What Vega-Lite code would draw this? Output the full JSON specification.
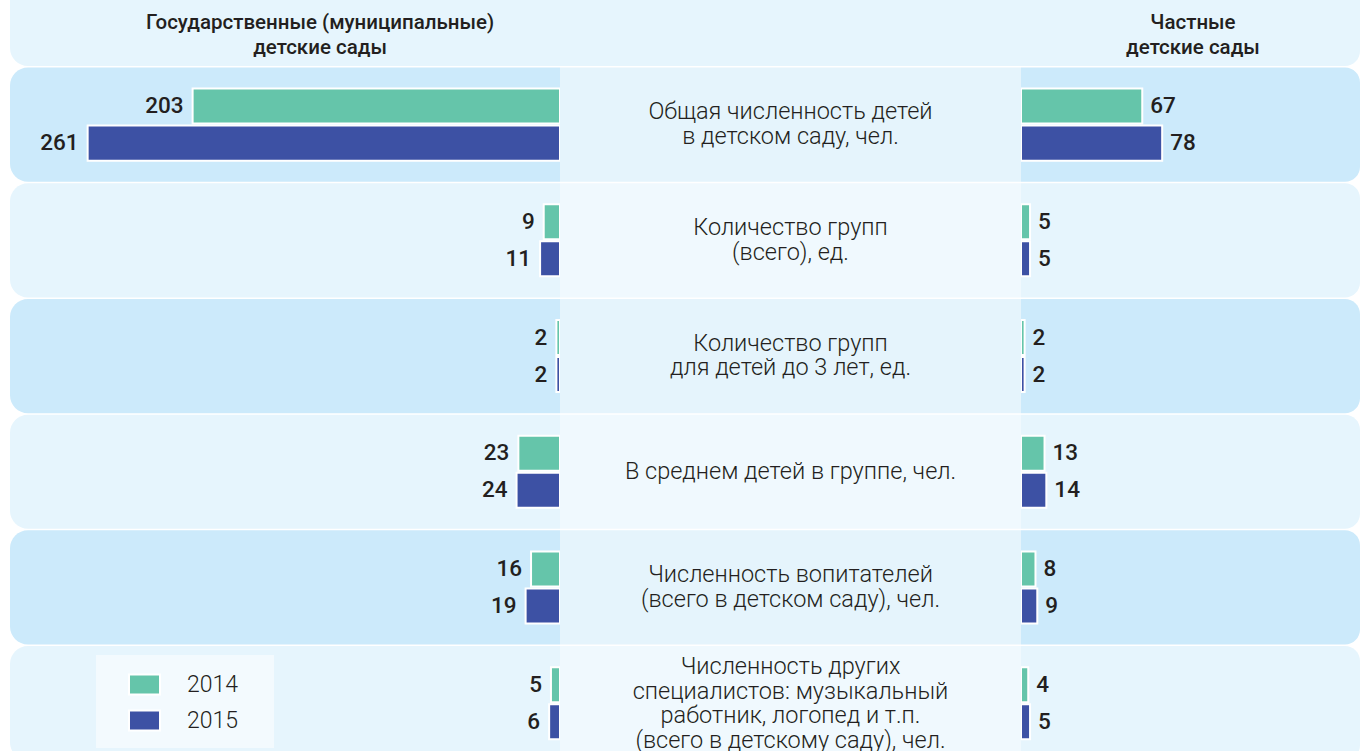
{
  "$schema": "https://vega.github.io/schema/vega-lite/v6.json",
  "padding": {"left": 10, "top": 0, "right": 0, "bottom": 0},
  "spacing": 0,
  "background": "white",
  "config": {
    "view": {"stroke": null},
    "legend": {
      "orient": "none",
      "legendX": 86,
      "legendY": 655,
      "padding": 13,
      "fillColor": "#f3fafe",
      "symbolType": "M-1,-0.645H1V0.645H-1Z",
      "symbolSize": 961,
      "symbolOffset": 19,
      "symbolStrokeColor": "white",
      "symbolStrokeWidth": 2,
      "symbolOpacity": 1,
      "labelOffset": 26,
      "rowPadding": 5,
      "labelFont": "Roboto",
      "labelFontWeight": 300,
      "labelFontSize": 23,
      "labelColor": "#231f20",
      "title": null
    }
  },
  "datasets": {
    "rows": [
      {"row": "h", "shade": "header"},
      {"row": "r1", "shade": "dark"},
      {"row": "r2", "shade": "light"},
      {"row": "r3", "shade": "dark"},
      {"row": "r4", "shade": "light"},
      {"row": "r5", "shade": "dark"},
      {"row": "r6", "shade": "light"}
    ],
    "labels": [
      {"row": "r1", "text": "Общая численность детей\nв детском саду, чел."},
      {"row": "r2", "text": "Количество групп\n(всего), ед."},
      {"row": "r3", "text": "Количество групп\nдля детей до 3 лет, ед."},
      {"row": "r4", "text": "В среднем детей в группе, чел."},
      {"row": "r5", "text": "Численность вопитателей\n(всего в детском саду), чел."},
      {"row": "r6", "text": "Численность других\nспециалистов: музыкальный\nработник, логопед и т.п.\n(всего в детскому саду),  чел."}
    ],
    "headers": [
      {"row": "h", "side": "state", "pos": 132.6, "text": "Государственные (муниципальные)\nдетские сады"},
      {"row": "h", "side": "private", "pos": 95, "text": "Частные\nдетские сады"}
    ],
    "bars": [
      {"row": "r1", "side": "state", "year": "2014", "value": 203},
      {"row": "r1", "side": "state", "year": "2015", "value": 261},
      {"row": "r2", "side": "state", "year": "2014", "value": 9},
      {"row": "r2", "side": "state", "year": "2015", "value": 11},
      {"row": "r3", "side": "state", "year": "2014", "value": 2},
      {"row": "r3", "side": "state", "year": "2015", "value": 2},
      {"row": "r4", "side": "state", "year": "2014", "value": 23},
      {"row": "r4", "side": "state", "year": "2015", "value": 24},
      {"row": "r5", "side": "state", "year": "2014", "value": 16},
      {"row": "r5", "side": "state", "year": "2015", "value": 19},
      {"row": "r6", "side": "state", "year": "2014", "value": 5},
      {"row": "r6", "side": "state", "year": "2015", "value": 6},
      {"row": "r1", "side": "private", "year": "2014", "value": 67},
      {"row": "r1", "side": "private", "year": "2015", "value": 78},
      {"row": "r2", "side": "private", "year": "2014", "value": 5},
      {"row": "r2", "side": "private", "year": "2015", "value": 5},
      {"row": "r3", "side": "private", "year": "2014", "value": 2},
      {"row": "r3", "side": "private", "year": "2015", "value": 2},
      {"row": "r4", "side": "private", "year": "2014", "value": 13},
      {"row": "r4", "side": "private", "year": "2015", "value": 14},
      {"row": "r5", "side": "private", "year": "2014", "value": 8},
      {"row": "r5", "side": "private", "year": "2015", "value": 9},
      {"row": "r6", "side": "private", "year": "2014", "value": 4},
      {"row": "r6", "side": "private", "year": "2015", "value": 5}
    ]
  },
  "hconcat": [
    {
      "width": 550,
      "height": 751,
      "layer": [
        {
          "data": {"name": "rows"},
          "mark": {"type": "rect", "clip": true, "cornerRadiusTopLeft": 18, "cornerRadiusBottomLeft": 18},
          "encoding": {
            "y": {"field": "row", "type": "nominal", "axis": null,
                  "scale": {"domain": ["h","r1","r2","r3","r4","r5","r6"], "range": [-48.2, 760.3], "paddingInner": 0.013, "paddingOuter": 0}},
            "fill": {"condition": {"test": "datum.shade == 'dark'", "value": "#cceafb"}, "value": "#e6f5fd"}
          }
        },
        {
          "data": {"name": "headers"},
          "transform": [{"filter": "datum.side == 'state'"}],
          "mark": {"type": "text", "clip": true, "font": "Roboto", "fontWeight": 500, "fontSize": 20.5, "fill": "#231f20", "align": "center", "baseline": "middle", "lineBreak": "\n", "lineHeight": 25, "dy": 14},
          "encoding": {
            "x": {"field": "pos", "type": "quantitative", "axis": null, "scale": {"domain": [0, 303.9], "reverse": true, "nice": false, "zero": true}},
            "y": {"field": "row", "type": "nominal", "axis": null},
            "text": {"field": "text"}
          }
        },
        {
          "data": {"name": "bars"},
          "transform": [{"filter": "datum.side == 'state'"}],
          "mark": {"type": "bar", "stroke": "white", "strokeWidth": 2, "clip": true},
          "encoding": {
            "x": {"field": "value", "type": "quantitative", "axis": null, "scale": {"domain": [0, 303.9], "reverse": true, "nice": false}},
            "y": {"field": "row", "type": "nominal", "axis": null},
            "yOffset": {"field": "year", "type": "nominal", "scale": {"domain": ["2014","2015"], "paddingInner": 0.054, "paddingOuter": 0.57}},
            "color": {"field": "year", "type": "nominal", "scale": {"domain": ["2014","2015"], "range": ["#65c5aa","#3d51a4"]},
                      "legend": {"labelExpr": "datum.label + '\u00a0\u2800'"}}
          }
        },
        {
          "data": {"name": "bars"},
          "transform": [{"filter": "datum.side == 'state'"}],
          "mark": {"type": "text", "align": "right", "baseline": "middle", "dx": -9, "font": "Roboto", "fontWeight": 500, "fontSize": 22.5, "fill": "#231f20"},
          "encoding": {
            "x": {"field": "value", "type": "quantitative", "axis": null},
            "y": {"field": "row", "type": "nominal", "axis": null},
            "yOffset": {"field": "year", "type": "nominal"},
            "text": {"field": "value", "type": "quantitative"}
          }
        }
      ]
    },
    {
      "width": 461,
      "height": 751,
      "layer": [
        {
          "data": {"name": "rows"},
          "mark": {"type": "rect", "clip": true},
          "encoding": {
            "y": {"field": "row", "type": "nominal", "axis": null,
                  "scale": {"domain": ["h","r1","r2","r3","r4","r5","r6"], "range": [-48.2, 760.3], "paddingInner": 0.013, "paddingOuter": 0}},
            "fill": {"condition": [{"test": "datum.shade == 'dark'", "value": "#e5f4fc"}, {"test": "datum.shade == 'light'", "value": "#f0f9fe"}], "value": "#e6f5fd"}
          }
        },
        {
          "data": {"name": "labels"},
          "transform": [{"filter": "datum.row == 'r4'"}],
          "mark": {"type": "text", "clip": true, "font": "Roboto", "fontWeight": 300, "fontSize": 23.5, "fill": "#231f20", "align": "center", "baseline": "middle", "lineBreak": "\n", "lineHeight": 24.5},
          "encoding": {
            "y": {"field": "row", "type": "nominal", "axis": null},
            "text": {"field": "text"}
          }
        },
        {
          "data": {"name": "labels"},
          "transform": [{"filter": "datum.row != 'r4' && datum.row != 'r6'"}],
          "mark": {"type": "text", "clip": true, "font": "Roboto", "fontWeight": 300, "fontSize": 23.5, "fill": "#231f20", "align": "center", "baseline": "middle", "lineBreak": "\n", "lineHeight": 24.5, "dy": -12.25},
          "encoding": {
            "y": {"field": "row", "type": "nominal", "axis": null},
            "text": {"field": "text"}
          }
        },
        {
          "data": {"name": "labels"},
          "transform": [{"filter": "datum.row == 'r6'"}],
          "mark": {"type": "text", "clip": true, "font": "Roboto", "fontWeight": 300, "fontSize": 23.5, "fill": "#231f20", "align": "center", "baseline": "middle", "lineBreak": "\n", "lineHeight": 24.5, "dy": -36},
          "encoding": {
            "y": {"field": "row", "type": "nominal", "axis": null},
            "text": {"field": "text"}
          }
        }
      ]
    },
    {
      "width": 339,
      "height": 751,
      "layer": [
        {
          "data": {"name": "rows"},
          "mark": {"type": "rect", "clip": true, "cornerRadiusTopRight": 15, "cornerRadiusBottomRight": 15},
          "encoding": {
            "y": {"field": "row", "type": "nominal", "axis": null,
                  "scale": {"domain": ["h","r1","r2","r3","r4","r5","r6"], "range": [-48.2, 760.3], "paddingInner": 0.013, "paddingOuter": 0}},
            "fill": {"condition": {"test": "datum.shade == 'dark'", "value": "#cceafb"}, "value": "#e6f5fd"}
          }
        },
        {
          "data": {"name": "headers"},
          "transform": [{"filter": "datum.side == 'private'"}],
          "mark": {"type": "text", "clip": true, "font": "Roboto", "fontWeight": 500, "fontSize": 20.5, "fill": "#231f20", "align": "center", "baseline": "middle", "lineBreak": "\n", "lineHeight": 25, "dy": 14},
          "encoding": {
            "x": {"field": "pos", "type": "quantitative", "axis": null, "scale": {"domain": [0, 187.3], "nice": false}},
            "y": {"field": "row", "type": "nominal", "axis": null},
            "text": {"field": "text"}
          }
        },
        {
          "data": {"name": "bars"},
          "transform": [{"filter": "datum.side == 'private'"}],
          "mark": {"type": "bar", "stroke": "white", "strokeWidth": 2, "clip": true},
          "encoding": {
            "x": {"field": "value", "type": "quantitative", "axis": null, "scale": {"domain": [0, 187.3], "nice": false}},
            "y": {"field": "row", "type": "nominal", "axis": null},
            "yOffset": {"field": "year", "type": "nominal", "scale": {"domain": ["2014","2015"], "paddingInner": 0.054, "paddingOuter": 0.57}},
            "color": {"field": "year", "type": "nominal", "scale": {"domain": ["2014","2015"], "range": ["#65c5aa","#3d51a4"]},
                      "legend": {"labelExpr": "datum.label + '\u00a0\u2800'"}}
          }
        },
        {
          "data": {"name": "bars"},
          "transform": [{"filter": "datum.side == 'private'"}],
          "mark": {"type": "text", "align": "left", "baseline": "middle", "dx": 8, "font": "Roboto", "fontWeight": 500, "fontSize": 22.5, "fill": "#231f20"},
          "encoding": {
            "x": {"field": "value", "type": "quantitative", "axis": null},
            "y": {"field": "row", "type": "nominal", "axis": null},
            "yOffset": {"field": "year", "type": "nominal"},
            "text": {"field": "value", "type": "quantitative"}
          }
        }
      ]
    }
  ]
}
